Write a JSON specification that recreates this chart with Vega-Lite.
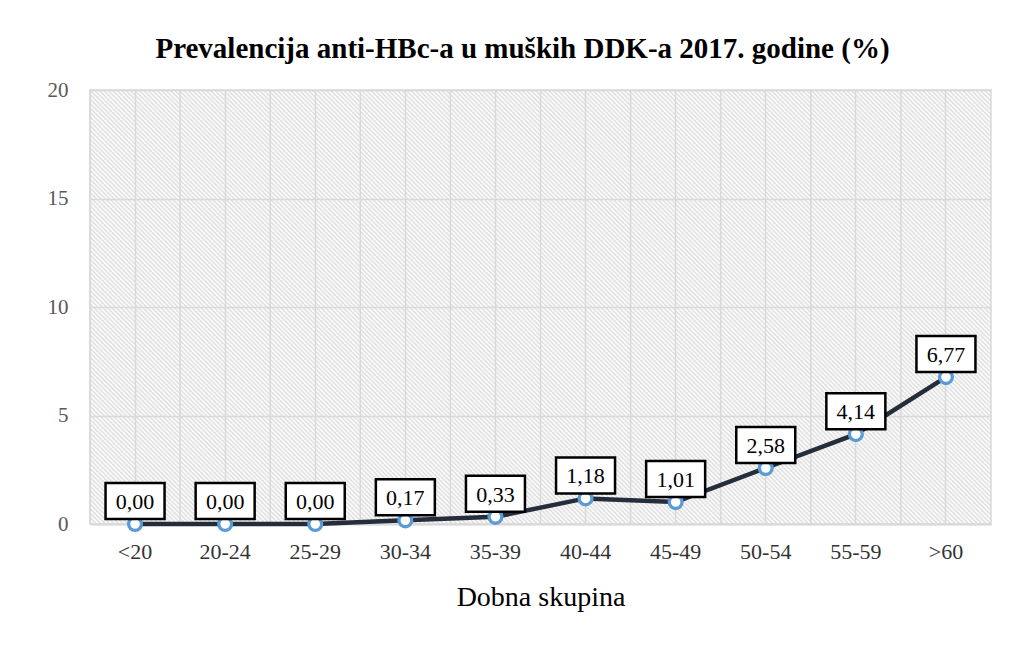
{
  "$schema": "https://vega.github.io/schema/vega-lite/v6.json",
  "autosize": {"type": "none"},
  "padding": {"left": 90, "top": 90, "right": 35, "bottom": 125},
  "width": 901,
  "height": 434,
  "background": "#ffffff",
  "title": {
    "text": "Prevalencija anti-HBc-a u muških  DDK-a 2017. godine (%)",
    "font": "Liberation Serif",
    "fontSize": 29,
    "fontWeight": "bold",
    "color": "#000000",
    "anchor": "middle",
    "frame": "group",
    "dx": -18,
    "offset": 15
  },
  "data": {
    "values": [
      {"skupina": "<20", "vrijednost": 0.00},
      {"skupina": "20-24", "vrijednost": 0.00},
      {"skupina": "25-29", "vrijednost": 0.00},
      {"skupina": "30-34", "vrijednost": 0.17},
      {"skupina": "35-39", "vrijednost": 0.33},
      {"skupina": "40-44", "vrijednost": 1.18},
      {"skupina": "45-49", "vrijednost": 1.01},
      {"skupina": "50-54", "vrijednost": 2.58},
      {"skupina": "55-59", "vrijednost": 4.14},
      {"skupina": ">60", "vrijednost": 6.77}
    ]
  },
  "encoding": {
    "x": {
      "field": "skupina",
      "type": "nominal",
      "sort": null,
      "scale": {"type": "band", "paddingInner": 0, "paddingOuter": 0},
      "axis": {
        "title": "Dobna skupina",
        "titleFont": "Liberation Serif",
        "titleFontSize": 28,
        "titleFontWeight": "normal",
        "titleColor": "#000000",
        "titlePadding": 21,
        "labelFont": "Liberation Serif",
        "labelFontSize": 22,
        "labelColor": "#333333",
        "labelPadding": 17,
        "labelAngle": 0,
        "ticks": false,
        "tickSize": 0,
        "domain": true,
        "domainColor": "#d9d9d9",
        "domainWidth": 2,
        "grid": true,
        "gridColor": "#d9d9d9",
        "gridWidth": 1.5
      }
    },
    "y": {
      "field": "vrijednost",
      "type": "quantitative",
      "scale": {"domain": [0, 20], "nice": false},
      "axis": {
        "title": null,
        "values": [0, 5, 10, 15, 20],
        "labelFont": "Liberation Serif",
        "labelFontSize": 21,
        "labelColor": "#595959",
        "labelPadding": 22,
        "ticks": false,
        "tickSize": 0,
        "domain": false,
        "grid": true,
        "gridColor": "#d9d9d9",
        "gridWidth": 1.5
      }
    }
  },
  "layer": [
    {
      "mark": {"type": "rule", "color": "#d9d9d9", "strokeWidth": 1.5},
      "encoding": {
        "x": {"field": "skupina", "type": "nominal", "sort": null, "bandPosition": 0},
        "y": null
      }
    },
    {
      "mark": {"type": "line", "color": "#242d3a", "strokeWidth": 4.5}
    },
    {
      "mark": {"type": "point", "shape": "circle", "filled": false, "fill": "#ffffff", "fillOpacity": 1, "stroke": "#5b9bd5", "strokeWidth": 3.3, "size": 165, "opacity": 1}
    },
    {
      "mark": {"type": "point", "shape": "M-1,-0.61L1,-0.61L1,0.61L-1,0.61Z", "filled": false, "fill": "#ffffff", "fillOpacity": 1, "stroke": "#000000", "strokeWidth": 2.5, "size": 3481, "opacity": 1, "yOffset": -23}
    },
    {
      "mark": {"type": "text", "font": "Liberation Serif", "fontSize": 22, "color": "#000000", "baseline": "middle", "align": "center", "dy": -22},
      "encoding": {
        "text": {"field": "vrijednost", "type": "quantitative", "format": ".2f"}
      }
    }
  ],
  "config": {
    "locale": {
      "number": {"decimal": ",", "thousands": ".", "grouping": [3], "currency": ["", " kn"]}
    },
    "view": {
      "stroke": "#d9d9d9",
      "strokeWidth": 1.5,
      "fill": {
        "gradient": "linear",
        "x1": 0, "y1": 1, "x2": 1.2027, "y2": 0.4207,
        "stops": [
{"offset":0,"color":"#fff"},{"offset":0.0017,"color":"#ddd"},{"offset":0.0033,"color":"#fff"},{"offset":0.005,"color":"#ddd"},{"offset":0.0067,"color":"#fff"},{"offset":0.0083,"color":"#ddd"},
{"offset":0.01,"color":"#fff"},{"offset":0.0117,"color":"#ddd"},{"offset":0.0133,"color":"#fff"},{"offset":0.015,"color":"#ddd"},{"offset":0.0167,"color":"#fff"},{"offset":0.0183,"color":"#ddd"},
{"offset":0.02,"color":"#fff"},{"offset":0.0217,"color":"#ddd"},{"offset":0.0233,"color":"#fff"},{"offset":0.025,"color":"#ddd"},{"offset":0.0267,"color":"#fff"},{"offset":0.0283,"color":"#ddd"},
{"offset":0.03,"color":"#fff"},{"offset":0.0317,"color":"#ddd"},{"offset":0.0333,"color":"#fff"},{"offset":0.035,"color":"#ddd"},{"offset":0.0367,"color":"#fff"},{"offset":0.0383,"color":"#ddd"},
{"offset":0.04,"color":"#fff"},{"offset":0.0417,"color":"#ddd"},{"offset":0.0433,"color":"#fff"},{"offset":0.045,"color":"#ddd"},{"offset":0.0467,"color":"#fff"},{"offset":0.0483,"color":"#ddd"},
{"offset":0.05,"color":"#fff"},{"offset":0.0517,"color":"#ddd"},{"offset":0.0533,"color":"#fff"},{"offset":0.055,"color":"#ddd"},{"offset":0.0567,"color":"#fff"},{"offset":0.0583,"color":"#ddd"},
{"offset":0.06,"color":"#fff"},{"offset":0.0617,"color":"#ddd"},{"offset":0.0633,"color":"#fff"},{"offset":0.065,"color":"#ddd"},{"offset":0.0667,"color":"#fff"},{"offset":0.0683,"color":"#ddd"},
{"offset":0.07,"color":"#fff"},{"offset":0.0717,"color":"#ddd"},{"offset":0.0733,"color":"#fff"},{"offset":0.075,"color":"#ddd"},{"offset":0.0767,"color":"#fff"},{"offset":0.0783,"color":"#ddd"},
{"offset":0.08,"color":"#fff"},{"offset":0.0817,"color":"#ddd"},{"offset":0.0833,"color":"#fff"},{"offset":0.085,"color":"#ddd"},{"offset":0.0867,"color":"#fff"},{"offset":0.0883,"color":"#ddd"},
{"offset":0.09,"color":"#fff"},{"offset":0.0917,"color":"#ddd"},{"offset":0.0933,"color":"#fff"},{"offset":0.095,"color":"#ddd"},{"offset":0.0967,"color":"#fff"},{"offset":0.0983,"color":"#ddd"},
{"offset":0.1,"color":"#fff"},{"offset":0.1017,"color":"#ddd"},{"offset":0.1033,"color":"#fff"},{"offset":0.105,"color":"#ddd"},{"offset":0.1067,"color":"#fff"},{"offset":0.1083,"color":"#ddd"},
{"offset":0.11,"color":"#fff"},{"offset":0.1117,"color":"#ddd"},{"offset":0.1133,"color":"#fff"},{"offset":0.115,"color":"#ddd"},{"offset":0.1167,"color":"#fff"},{"offset":0.1183,"color":"#ddd"},
{"offset":0.12,"color":"#fff"},{"offset":0.1217,"color":"#ddd"},{"offset":0.1233,"color":"#fff"},{"offset":0.125,"color":"#ddd"},{"offset":0.1267,"color":"#fff"},{"offset":0.1283,"color":"#ddd"},
{"offset":0.13,"color":"#fff"},{"offset":0.1317,"color":"#ddd"},{"offset":0.1333,"color":"#fff"},{"offset":0.135,"color":"#ddd"},{"offset":0.1367,"color":"#fff"},{"offset":0.1383,"color":"#ddd"},
{"offset":0.14,"color":"#fff"},{"offset":0.1417,"color":"#ddd"},{"offset":0.1433,"color":"#fff"},{"offset":0.145,"color":"#ddd"},{"offset":0.1467,"color":"#fff"},{"offset":0.1483,"color":"#ddd"},
{"offset":0.15,"color":"#fff"},{"offset":0.1517,"color":"#ddd"},{"offset":0.1533,"color":"#fff"},{"offset":0.155,"color":"#ddd"},{"offset":0.1567,"color":"#fff"},{"offset":0.1583,"color":"#ddd"},
{"offset":0.16,"color":"#fff"},{"offset":0.1617,"color":"#ddd"},{"offset":0.1633,"color":"#fff"},{"offset":0.165,"color":"#ddd"},{"offset":0.1667,"color":"#fff"},{"offset":0.1683,"color":"#ddd"},
{"offset":0.17,"color":"#fff"},{"offset":0.1717,"color":"#ddd"},{"offset":0.1733,"color":"#fff"},{"offset":0.175,"color":"#ddd"},{"offset":0.1767,"color":"#fff"},{"offset":0.1783,"color":"#ddd"},
{"offset":0.18,"color":"#fff"},{"offset":0.1817,"color":"#ddd"},{"offset":0.1833,"color":"#fff"},{"offset":0.185,"color":"#ddd"},{"offset":0.1867,"color":"#fff"},{"offset":0.1883,"color":"#ddd"},
{"offset":0.19,"color":"#fff"},{"offset":0.1917,"color":"#ddd"},{"offset":0.1933,"color":"#fff"},{"offset":0.195,"color":"#ddd"},{"offset":0.1967,"color":"#fff"},{"offset":0.1983,"color":"#ddd"},
{"offset":0.2,"color":"#fff"},{"offset":0.2017,"color":"#ddd"},{"offset":0.2033,"color":"#fff"},{"offset":0.205,"color":"#ddd"},{"offset":0.2067,"color":"#fff"},{"offset":0.2083,"color":"#ddd"},
{"offset":0.21,"color":"#fff"},{"offset":0.2117,"color":"#ddd"},{"offset":0.2133,"color":"#fff"},{"offset":0.215,"color":"#ddd"},{"offset":0.2167,"color":"#fff"},{"offset":0.2183,"color":"#ddd"},
{"offset":0.22,"color":"#fff"},{"offset":0.2217,"color":"#ddd"},{"offset":0.2233,"color":"#fff"},{"offset":0.225,"color":"#ddd"},{"offset":0.2267,"color":"#fff"},{"offset":0.2283,"color":"#ddd"},
{"offset":0.23,"color":"#fff"},{"offset":0.2317,"color":"#ddd"},{"offset":0.2333,"color":"#fff"},{"offset":0.235,"color":"#ddd"},{"offset":0.2367,"color":"#fff"},{"offset":0.2383,"color":"#ddd"},
{"offset":0.24,"color":"#fff"},{"offset":0.2417,"color":"#ddd"},{"offset":0.2433,"color":"#fff"},{"offset":0.245,"color":"#ddd"},{"offset":0.2467,"color":"#fff"},{"offset":0.2483,"color":"#ddd"},
{"offset":0.25,"color":"#fff"},{"offset":0.2517,"color":"#ddd"},{"offset":0.2533,"color":"#fff"},{"offset":0.255,"color":"#ddd"},{"offset":0.2567,"color":"#fff"},{"offset":0.2583,"color":"#ddd"},
{"offset":0.26,"color":"#fff"},{"offset":0.2617,"color":"#ddd"},{"offset":0.2633,"color":"#fff"},{"offset":0.265,"color":"#ddd"},{"offset":0.2667,"color":"#fff"},{"offset":0.2683,"color":"#ddd"},
{"offset":0.27,"color":"#fff"},{"offset":0.2717,"color":"#ddd"},{"offset":0.2733,"color":"#fff"},{"offset":0.275,"color":"#ddd"},{"offset":0.2767,"color":"#fff"},{"offset":0.2783,"color":"#ddd"},
{"offset":0.28,"color":"#fff"},{"offset":0.2817,"color":"#ddd"},{"offset":0.2833,"color":"#fff"},{"offset":0.285,"color":"#ddd"},{"offset":0.2867,"color":"#fff"},{"offset":0.2883,"color":"#ddd"},
{"offset":0.29,"color":"#fff"},{"offset":0.2917,"color":"#ddd"},{"offset":0.2933,"color":"#fff"},{"offset":0.295,"color":"#ddd"},{"offset":0.2967,"color":"#fff"},{"offset":0.2983,"color":"#ddd"},
{"offset":0.3,"color":"#fff"},{"offset":0.3017,"color":"#ddd"},{"offset":0.3033,"color":"#fff"},{"offset":0.305,"color":"#ddd"},{"offset":0.3067,"color":"#fff"},{"offset":0.3083,"color":"#ddd"},
{"offset":0.31,"color":"#fff"},{"offset":0.3117,"color":"#ddd"},{"offset":0.3133,"color":"#fff"},{"offset":0.315,"color":"#ddd"},{"offset":0.3167,"color":"#fff"},{"offset":0.3183,"color":"#ddd"},
{"offset":0.32,"color":"#fff"},{"offset":0.3217,"color":"#ddd"},{"offset":0.3233,"color":"#fff"},{"offset":0.325,"color":"#ddd"},{"offset":0.3267,"color":"#fff"},{"offset":0.3283,"color":"#ddd"},
{"offset":0.33,"color":"#fff"},{"offset":0.3317,"color":"#ddd"},{"offset":0.3333,"color":"#fff"},{"offset":0.335,"color":"#ddd"},{"offset":0.3367,"color":"#fff"},{"offset":0.3383,"color":"#ddd"},
{"offset":0.34,"color":"#fff"},{"offset":0.3417,"color":"#ddd"},{"offset":0.3433,"color":"#fff"},{"offset":0.345,"color":"#ddd"},{"offset":0.3467,"color":"#fff"},{"offset":0.3483,"color":"#ddd"},
{"offset":0.35,"color":"#fff"},{"offset":0.3517,"color":"#ddd"},{"offset":0.3533,"color":"#fff"},{"offset":0.355,"color":"#ddd"},{"offset":0.3567,"color":"#fff"},{"offset":0.3583,"color":"#ddd"},
{"offset":0.36,"color":"#fff"},{"offset":0.3617,"color":"#ddd"},{"offset":0.3633,"color":"#fff"},{"offset":0.365,"color":"#ddd"},{"offset":0.3667,"color":"#fff"},{"offset":0.3683,"color":"#ddd"},
{"offset":0.37,"color":"#fff"},{"offset":0.3717,"color":"#ddd"},{"offset":0.3733,"color":"#fff"},{"offset":0.375,"color":"#ddd"},{"offset":0.3767,"color":"#fff"},{"offset":0.3783,"color":"#ddd"},
{"offset":0.38,"color":"#fff"},{"offset":0.3817,"color":"#ddd"},{"offset":0.3833,"color":"#fff"},{"offset":0.385,"color":"#ddd"},{"offset":0.3867,"color":"#fff"},{"offset":0.3883,"color":"#ddd"},
{"offset":0.39,"color":"#fff"},{"offset":0.3917,"color":"#ddd"},{"offset":0.3933,"color":"#fff"},{"offset":0.395,"color":"#ddd"},{"offset":0.3967,"color":"#fff"},{"offset":0.3983,"color":"#ddd"},
{"offset":0.4,"color":"#fff"},{"offset":0.4017,"color":"#ddd"},{"offset":0.4033,"color":"#fff"},{"offset":0.405,"color":"#ddd"},{"offset":0.4067,"color":"#fff"},{"offset":0.4083,"color":"#ddd"},
{"offset":0.41,"color":"#fff"},{"offset":0.4117,"color":"#ddd"},{"offset":0.4133,"color":"#fff"},{"offset":0.415,"color":"#ddd"},{"offset":0.4167,"color":"#fff"},{"offset":0.4183,"color":"#ddd"},
{"offset":0.42,"color":"#fff"},{"offset":0.4217,"color":"#ddd"},{"offset":0.4233,"color":"#fff"},{"offset":0.425,"color":"#ddd"},{"offset":0.4267,"color":"#fff"},{"offset":0.4283,"color":"#ddd"},
{"offset":0.43,"color":"#fff"},{"offset":0.4317,"color":"#ddd"},{"offset":0.4333,"color":"#fff"},{"offset":0.435,"color":"#ddd"},{"offset":0.4367,"color":"#fff"},{"offset":0.4383,"color":"#ddd"},
{"offset":0.44,"color":"#fff"},{"offset":0.4417,"color":"#ddd"},{"offset":0.4433,"color":"#fff"},{"offset":0.445,"color":"#ddd"},{"offset":0.4467,"color":"#fff"},{"offset":0.4483,"color":"#ddd"},
{"offset":0.45,"color":"#fff"},{"offset":0.4517,"color":"#ddd"},{"offset":0.4533,"color":"#fff"},{"offset":0.455,"color":"#ddd"},{"offset":0.4567,"color":"#fff"},{"offset":0.4583,"color":"#ddd"},
{"offset":0.46,"color":"#fff"},{"offset":0.4617,"color":"#ddd"},{"offset":0.4633,"color":"#fff"},{"offset":0.465,"color":"#ddd"},{"offset":0.4667,"color":"#fff"},{"offset":0.4683,"color":"#ddd"},
{"offset":0.47,"color":"#fff"},{"offset":0.4717,"color":"#ddd"},{"offset":0.4733,"color":"#fff"},{"offset":0.475,"color":"#ddd"},{"offset":0.4767,"color":"#fff"},{"offset":0.4783,"color":"#ddd"},
{"offset":0.48,"color":"#fff"},{"offset":0.4817,"color":"#ddd"},{"offset":0.4833,"color":"#fff"},{"offset":0.485,"color":"#ddd"},{"offset":0.4867,"color":"#fff"},{"offset":0.4883,"color":"#ddd"},
{"offset":0.49,"color":"#fff"},{"offset":0.4917,"color":"#ddd"},{"offset":0.4933,"color":"#fff"},{"offset":0.495,"color":"#ddd"},{"offset":0.4967,"color":"#fff"},{"offset":0.4983,"color":"#ddd"},
{"offset":0.5,"color":"#fff"},{"offset":0.5017,"color":"#ddd"},{"offset":0.5033,"color":"#fff"},{"offset":0.505,"color":"#ddd"},{"offset":0.5067,"color":"#fff"},{"offset":0.5083,"color":"#ddd"},
{"offset":0.51,"color":"#fff"},{"offset":0.5117,"color":"#ddd"},{"offset":0.5133,"color":"#fff"},{"offset":0.515,"color":"#ddd"},{"offset":0.5167,"color":"#fff"},{"offset":0.5183,"color":"#ddd"},
{"offset":0.52,"color":"#fff"},{"offset":0.5217,"color":"#ddd"},{"offset":0.5233,"color":"#fff"},{"offset":0.525,"color":"#ddd"},{"offset":0.5267,"color":"#fff"},{"offset":0.5283,"color":"#ddd"},
{"offset":0.53,"color":"#fff"},{"offset":0.5317,"color":"#ddd"},{"offset":0.5333,"color":"#fff"},{"offset":0.535,"color":"#ddd"},{"offset":0.5367,"color":"#fff"},{"offset":0.5383,"color":"#ddd"},
{"offset":0.54,"color":"#fff"},{"offset":0.5417,"color":"#ddd"},{"offset":0.5433,"color":"#fff"},{"offset":0.545,"color":"#ddd"},{"offset":0.5467,"color":"#fff"},{"offset":0.5483,"color":"#ddd"},
{"offset":0.55,"color":"#fff"},{"offset":0.5517,"color":"#ddd"},{"offset":0.5533,"color":"#fff"},{"offset":0.555,"color":"#ddd"},{"offset":0.5567,"color":"#fff"},{"offset":0.5583,"color":"#ddd"},
{"offset":0.56,"color":"#fff"},{"offset":0.5617,"color":"#ddd"},{"offset":0.5633,"color":"#fff"},{"offset":0.565,"color":"#ddd"},{"offset":0.5667,"color":"#fff"},{"offset":0.5683,"color":"#ddd"},
{"offset":0.57,"color":"#fff"},{"offset":0.5717,"color":"#ddd"},{"offset":0.5733,"color":"#fff"},{"offset":0.575,"color":"#ddd"},{"offset":0.5767,"color":"#fff"},{"offset":0.5783,"color":"#ddd"},
{"offset":0.58,"color":"#fff"},{"offset":0.5817,"color":"#ddd"},{"offset":0.5833,"color":"#fff"},{"offset":0.585,"color":"#ddd"},{"offset":0.5867,"color":"#fff"},{"offset":0.5883,"color":"#ddd"},
{"offset":0.59,"color":"#fff"},{"offset":0.5917,"color":"#ddd"},{"offset":0.5933,"color":"#fff"},{"offset":0.595,"color":"#ddd"},{"offset":0.5967,"color":"#fff"},{"offset":0.5983,"color":"#ddd"},
{"offset":0.6,"color":"#fff"},{"offset":0.6017,"color":"#ddd"},{"offset":0.6033,"color":"#fff"},{"offset":0.605,"color":"#ddd"},{"offset":0.6067,"color":"#fff"},{"offset":0.6083,"color":"#ddd"},
{"offset":0.61,"color":"#fff"},{"offset":0.6117,"color":"#ddd"},{"offset":0.6133,"color":"#fff"},{"offset":0.615,"color":"#ddd"},{"offset":0.6167,"color":"#fff"},{"offset":0.6183,"color":"#ddd"},
{"offset":0.62,"color":"#fff"},{"offset":0.6217,"color":"#ddd"},{"offset":0.6233,"color":"#fff"},{"offset":0.625,"color":"#ddd"},{"offset":0.6267,"color":"#fff"},{"offset":0.6283,"color":"#ddd"},
{"offset":0.63,"color":"#fff"},{"offset":0.6317,"color":"#ddd"},{"offset":0.6333,"color":"#fff"},{"offset":0.635,"color":"#ddd"},{"offset":0.6367,"color":"#fff"},{"offset":0.6383,"color":"#ddd"},
{"offset":0.64,"color":"#fff"},{"offset":0.6417,"color":"#ddd"},{"offset":0.6433,"color":"#fff"},{"offset":0.645,"color":"#ddd"},{"offset":0.6467,"color":"#fff"},{"offset":0.6483,"color":"#ddd"},
{"offset":0.65,"color":"#fff"},{"offset":0.6517,"color":"#ddd"},{"offset":0.6533,"color":"#fff"},{"offset":0.655,"color":"#ddd"},{"offset":0.6567,"color":"#fff"},{"offset":0.6583,"color":"#ddd"},
{"offset":0.66,"color":"#fff"},{"offset":0.6617,"color":"#ddd"},{"offset":0.6633,"color":"#fff"},{"offset":0.665,"color":"#ddd"},{"offset":0.6667,"color":"#fff"},{"offset":0.6683,"color":"#ddd"},
{"offset":0.67,"color":"#fff"},{"offset":0.6717,"color":"#ddd"},{"offset":0.6733,"color":"#fff"},{"offset":0.675,"color":"#ddd"},{"offset":0.6767,"color":"#fff"},{"offset":0.6783,"color":"#ddd"},
{"offset":0.68,"color":"#fff"},{"offset":0.6817,"color":"#ddd"},{"offset":0.6833,"color":"#fff"},{"offset":0.685,"color":"#ddd"},{"offset":0.6867,"color":"#fff"},{"offset":0.6883,"color":"#ddd"},
{"offset":0.69,"color":"#fff"},{"offset":0.6917,"color":"#ddd"},{"offset":0.6933,"color":"#fff"},{"offset":0.695,"color":"#ddd"},{"offset":0.6967,"color":"#fff"},{"offset":0.6983,"color":"#ddd"},
{"offset":0.7,"color":"#fff"},{"offset":0.7017,"color":"#ddd"},{"offset":0.7033,"color":"#fff"},{"offset":0.705,"color":"#ddd"},{"offset":0.7067,"color":"#fff"},{"offset":0.7083,"color":"#ddd"},
{"offset":0.71,"color":"#fff"},{"offset":0.7117,"color":"#ddd"},{"offset":0.7133,"color":"#fff"},{"offset":0.715,"color":"#ddd"},{"offset":0.7167,"color":"#fff"},{"offset":0.7183,"color":"#ddd"},
{"offset":0.72,"color":"#fff"},{"offset":0.7217,"color":"#ddd"},{"offset":0.7233,"color":"#fff"},{"offset":0.725,"color":"#ddd"},{"offset":0.7267,"color":"#fff"},{"offset":0.7283,"color":"#ddd"},
{"offset":0.73,"color":"#fff"},{"offset":0.7317,"color":"#ddd"},{"offset":0.7333,"color":"#fff"},{"offset":0.735,"color":"#ddd"},{"offset":0.7367,"color":"#fff"},{"offset":0.7383,"color":"#ddd"},
{"offset":0.74,"color":"#fff"},{"offset":0.7417,"color":"#ddd"},{"offset":0.7433,"color":"#fff"},{"offset":0.745,"color":"#ddd"},{"offset":0.7467,"color":"#fff"},{"offset":0.7483,"color":"#ddd"},
{"offset":0.75,"color":"#fff"},{"offset":0.7517,"color":"#ddd"},{"offset":0.7533,"color":"#fff"},{"offset":0.755,"color":"#ddd"},{"offset":0.7567,"color":"#fff"},{"offset":0.7583,"color":"#ddd"},
{"offset":0.76,"color":"#fff"},{"offset":0.7617,"color":"#ddd"},{"offset":0.7633,"color":"#fff"},{"offset":0.765,"color":"#ddd"},{"offset":0.7667,"color":"#fff"},{"offset":0.7683,"color":"#ddd"},
{"offset":0.77,"color":"#fff"},{"offset":0.7717,"color":"#ddd"},{"offset":0.7733,"color":"#fff"},{"offset":0.775,"color":"#ddd"},{"offset":0.7767,"color":"#fff"},{"offset":0.7783,"color":"#ddd"},
{"offset":0.78,"color":"#fff"},{"offset":0.7817,"color":"#ddd"},{"offset":0.7833,"color":"#fff"},{"offset":0.785,"color":"#ddd"},{"offset":0.7867,"color":"#fff"},{"offset":0.7883,"color":"#ddd"},
{"offset":0.79,"color":"#fff"},{"offset":0.7917,"color":"#ddd"},{"offset":0.7933,"color":"#fff"},{"offset":0.795,"color":"#ddd"},{"offset":0.7967,"color":"#fff"},{"offset":0.7983,"color":"#ddd"},
{"offset":0.8,"color":"#fff"},{"offset":0.8017,"color":"#ddd"},{"offset":0.8033,"color":"#fff"},{"offset":0.805,"color":"#ddd"},{"offset":0.8067,"color":"#fff"},{"offset":0.8083,"color":"#ddd"},
{"offset":0.81,"color":"#fff"},{"offset":0.8117,"color":"#ddd"},{"offset":0.8133,"color":"#fff"},{"offset":0.815,"color":"#ddd"},{"offset":0.8167,"color":"#fff"},{"offset":0.8183,"color":"#ddd"},
{"offset":0.82,"color":"#fff"},{"offset":0.8217,"color":"#ddd"},{"offset":0.8233,"color":"#fff"},{"offset":0.825,"color":"#ddd"},{"offset":0.8267,"color":"#fff"},{"offset":0.8283,"color":"#ddd"},
{"offset":0.83,"color":"#fff"},{"offset":0.8317,"color":"#ddd"},{"offset":0.8333,"color":"#fff"},{"offset":0.835,"color":"#ddd"},{"offset":0.8367,"color":"#fff"},{"offset":0.8383,"color":"#ddd"},
{"offset":0.84,"color":"#fff"},{"offset":0.8417,"color":"#ddd"},{"offset":0.8433,"color":"#fff"},{"offset":0.845,"color":"#ddd"},{"offset":0.8467,"color":"#fff"},{"offset":0.8483,"color":"#ddd"},
{"offset":0.85,"color":"#fff"},{"offset":0.8517,"color":"#ddd"},{"offset":0.8533,"color":"#fff"},{"offset":0.855,"color":"#ddd"},{"offset":0.8567,"color":"#fff"},{"offset":0.8583,"color":"#ddd"},
{"offset":0.86,"color":"#fff"},{"offset":0.8617,"color":"#ddd"},{"offset":0.8633,"color":"#fff"},{"offset":0.865,"color":"#ddd"},{"offset":0.8667,"color":"#fff"},{"offset":0.8683,"color":"#ddd"},
{"offset":0.87,"color":"#fff"},{"offset":0.8717,"color":"#ddd"},{"offset":0.8733,"color":"#fff"},{"offset":0.875,"color":"#ddd"},{"offset":0.8767,"color":"#fff"},{"offset":0.8783,"color":"#ddd"},
{"offset":0.88,"color":"#fff"},{"offset":0.8817,"color":"#ddd"},{"offset":0.8833,"color":"#fff"},{"offset":0.885,"color":"#ddd"},{"offset":0.8867,"color":"#fff"},{"offset":0.8883,"color":"#ddd"},
{"offset":0.89,"color":"#fff"},{"offset":0.8917,"color":"#ddd"},{"offset":0.8933,"color":"#fff"},{"offset":0.895,"color":"#ddd"},{"offset":0.8967,"color":"#fff"},{"offset":0.8983,"color":"#ddd"},
{"offset":0.9,"color":"#fff"},{"offset":0.9017,"color":"#ddd"},{"offset":0.9033,"color":"#fff"},{"offset":0.905,"color":"#ddd"},{"offset":0.9067,"color":"#fff"},{"offset":0.9083,"color":"#ddd"},
{"offset":0.91,"color":"#fff"},{"offset":0.9117,"color":"#ddd"},{"offset":0.9133,"color":"#fff"},{"offset":0.915,"color":"#ddd"},{"offset":0.9167,"color":"#fff"},{"offset":0.9183,"color":"#ddd"},
{"offset":0.92,"color":"#fff"},{"offset":0.9217,"color":"#ddd"},{"offset":0.9233,"color":"#fff"},{"offset":0.925,"color":"#ddd"},{"offset":0.9267,"color":"#fff"},{"offset":0.9283,"color":"#ddd"},
{"offset":0.93,"color":"#fff"},{"offset":0.9317,"color":"#ddd"},{"offset":0.9333,"color":"#fff"},{"offset":0.935,"color":"#ddd"},{"offset":0.9367,"color":"#fff"},{"offset":0.9383,"color":"#ddd"},
{"offset":0.94,"color":"#fff"},{"offset":0.9417,"color":"#ddd"},{"offset":0.9433,"color":"#fff"},{"offset":0.945,"color":"#ddd"},{"offset":0.9467,"color":"#fff"},{"offset":0.9483,"color":"#ddd"},
{"offset":0.95,"color":"#fff"},{"offset":0.9517,"color":"#ddd"},{"offset":0.9533,"color":"#fff"},{"offset":0.955,"color":"#ddd"},{"offset":0.9567,"color":"#fff"},{"offset":0.9583,"color":"#ddd"},
{"offset":0.96,"color":"#fff"},{"offset":0.9617,"color":"#ddd"},{"offset":0.9633,"color":"#fff"},{"offset":0.965,"color":"#ddd"},{"offset":0.9667,"color":"#fff"},{"offset":0.9683,"color":"#ddd"},
{"offset":0.97,"color":"#fff"},{"offset":0.9717,"color":"#ddd"},{"offset":0.9733,"color":"#fff"},{"offset":0.975,"color":"#ddd"},{"offset":0.9767,"color":"#fff"},{"offset":0.9783,"color":"#ddd"},
{"offset":0.98,"color":"#fff"},{"offset":0.9817,"color":"#ddd"},{"offset":0.9833,"color":"#fff"},{"offset":0.985,"color":"#ddd"},{"offset":0.9867,"color":"#fff"},{"offset":0.9883,"color":"#ddd"},
{"offset":0.99,"color":"#fff"},{"offset":0.9917,"color":"#ddd"},{"offset":0.9933,"color":"#fff"},{"offset":0.995,"color":"#ddd"},{"offset":0.9967,"color":"#fff"},{"offset":0.9983,"color":"#ddd"},
{"offset":1,"color":"#fff"}
        ]
      }
    },
    "font": "Liberation Serif"
  }
}
